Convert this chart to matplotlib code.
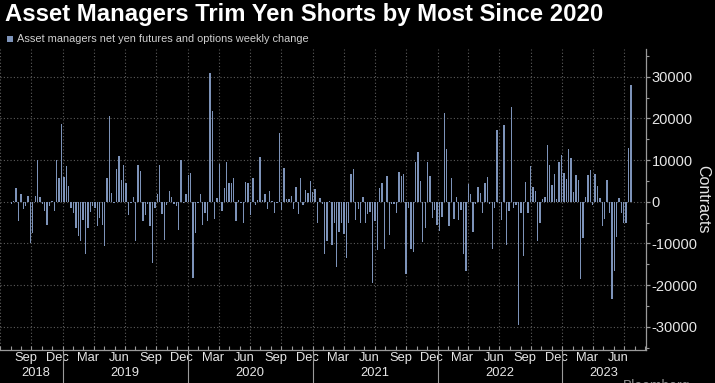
import numpy as np
import pandas as pd
import matplotlib
matplotlib.use("Agg")
import matplotlib.pyplot as plt
import matplotlib.dates as mdates
import matplotlib.transforms as mtransforms
from matplotlib.ticker import MultipleLocator, FuncFormatter

# weekly change in asset managers' net yen futures & options positions (contracts)
changes_2018_19 = [
    -500, 200, 3300, -4700, 1900, -1700, -1100, 1400, -9800, -7400, 1400, 10000, 1200,
    -600, -2300, -5500, -1100, 200, -2300, 10000, 5700, 18700, 6000, 8500, 3800, -1600,
    -2700, -6200, -8300, -9500, -4300, -12500, -6200, -2400, -1100, -1400, -5900, -3800,
    -5500, -10700, 5800, 20600, 2100, -300, 7900, 11000, 5300, 8900, 4600, -3300, -300,
    1100, -9500,
]
changes_2019_20 = [
    8800, 7400, -4600, -3100, -500, -5800, -14600, -1600, 1800, 8800, -3000, -9100, -900,
    2600, 1100, -600, -1100, -6700, 10000, -400, 1900, 6400, 7000, -18400, -7600, -300,
    1900, -5500, -2600, -4700, 30900, 21800, -4200, 800, 9000, -2300, 3200, 9500, 4400,
    4600, 5800, -4700, 500, -300, -5100, 4800, 4600, -3100, 5700, -900,
]
changes_2020_21 = [
    300, 10800, 300, 1800, -1700, 2600, 200, -2600, -300, 16600, -2100, 8200, 700, 700,
    1400, -1800, 3600, -3000, 5800, -900, 2900, 2200, 5000, 2400, 3100, -5200, 1000, -500,
    -12600, -9400, 200, -10400, -5200, -15700, -7200, -5200, -7800, -13400, -5000, 6700,
    7900, -4400, -1800, -5200, 1200, -5000, -3000, -2500, -19400, -4600, -11700, 3200, 4600,
]
changes_2021_22 = [
    -11400, 6100, -7900, -500, -600, -2700, 7200, 6100, 6700, -17300, -1400, -11400,
    -12100, 9600, 11900, 5000, -9700, -6200, 9600, 6200, -4000, -2100, -5500, -7100,
    -3700, 21300, 12700, -5900, 5800, -4100, 1100, -4500, -2100, -12600, -16700, 4200,
    1800, -7300, -600, 3500, 2100, -2800, 4600, 6000, -600, -11400, -1400, 17200, -400,
    -4500, 18500, -10500,
]
changes_2022_23 = [
    -2300, 22800, -1400, -900, -29500, -2600, -13000, 4700, -2700, 8500, 3600, 2500,
    -9400, -5100, 600, 1100, 13700, 8800, 3900, 6700, 700, 9500, 11300, 7000, 5400,
    12600, 10500, 2400, 6400, 5200, -18500, -8800, 1200, 6400, 7600, -800, 6600, 3800,
    900, -5800, -4100, 5200, -2600, -23400, -16600, -8400, 900, -2800, -5000, -5000,
    13000, 27900,
]
changes = (changes_2018_19 + changes_2019_20 + changes_2020_21
           + changes_2021_22 + changes_2022_23)
dates = pd.date_range(end="2023-07-21", periods=len(changes), freq="7D")

title = "Asset Managers Trim Yen Shorts by Most Since 2020"
legend_label = "Asset managers net yen futures and options weekly change"
y_label = "Contracts"

BG = "#000000"
BAR = "#7d93b9"
GRID = "#5c5c5c"
AXC = "#9a9a9a"
TXT = "#e6e6e6"

plt.rcParams["font.family"] = ["Liberation Sans Narrow", "Liberation Sans", "DejaVu Sans"]
plt.rcParams["savefig.bbox"] = "standard"

fig = plt.figure(figsize=(7.15, 3.83), dpi=100, facecolor=BG)
ax = fig.add_axes([0.0, 1 - 350 / 383, 646 / 715, 301 / 383], facecolor=BG)

ax.bar(dates, changes, width=4, color=BAR, linewidth=0, zorder=3)

x0 = mdates.date2num(pd.Timestamp("2018-07-26"))
x1 = mdates.date2num(pd.Timestamp("2023-09-03"))
ax.set_xlim(x0, x1)
ax.set_ylim(-35600, 36650)

for s in ["left", "top"]:
    ax.spines[s].set_visible(False)
for s in ["right", "bottom"]:
    ax.spines[s].set_color(AXC)
    ax.spines[s].set_linewidth(0.9)

# y axis on the right
ax.yaxis.tick_right()
ax.yaxis.set_major_locator(MultipleLocator(10000))
ax.yaxis.set_minor_locator(MultipleLocator(5000))
ax.yaxis.set_major_formatter(FuncFormatter(lambda v, p: f"{int(v)}"))
ax.tick_params(axis="y", which="major", length=3, width=0.9, color=AXC,
               labelcolor=TXT, labelsize=10.5, pad=1)
ax.tick_params(axis="y", which="minor", length=2, width=0.8, color=AXC)
ax.text(703 / 646, 0.5, y_label, transform=ax.transAxes, rotation=-90,
        ha="center", va="center", color=TXT, fontsize=11.5)
ax.grid(axis="y", which="major", color=GRID, linestyle=(0, (1, 2)), linewidth=0.8, zorder=0)

# x axis: month labels mid-month, small ticks at month starts
months = pd.date_range("2018-07-01", "2023-09-01", freq="MS")
label_months = [m + pd.Timedelta(days=14) for m in months
                if m.month in (3, 6, 9, 12) and m <= dates[-1]]
ax.set_xticks([mdates.date2num(d) for d in label_months])
ax.set_xticklabels([d.strftime("%b") for d in label_months])
ax.set_xticks([mdates.date2num(m) for m in months], minor=True)
ax.tick_params(axis="x", which="major", length=0, labelcolor=TXT, labelsize=9.3, pad=1.5)
ax.tick_params(axis="x", which="minor", length=3, width=0.8, color=AXC, direction="in")

# quarterly vertical gridlines
for m in months:
    if m.month in (1, 4, 7, 10):
        ax.axvline(mdates.date2num(m), color=GRID, linestyle=(0, (1, 2)), linewidth=0.8, zorder=0)

# year labels and separators under the axis
trans = mtransforms.blended_transform_factory(ax.transData, ax.transAxes)
for yr in range(2018, 2024):
    start = max(mdates.date2num(pd.Timestamp(f"{yr}-01-01")), x0)
    end = min(mdates.date2num(pd.Timestamp(f"{yr + 1}-01-01")), x1)
    ax.text((start + end) / 2, -16.8 / 301, str(yr), transform=trans, ha="center", va="top",
            color=TXT, fontsize=9.3)
    if yr > 2018:
        ax.plot([start, start], [0, -0.13], transform=trans, color=AXC,
                linewidth=0.8, clip_on=False)

# title and legend
fig.text(0.007, 1 - 3 / 383, title, ha="left", va="top", color="white",
         fontsize=17.2, fontweight="bold")
fig.patches.append(plt.Rectangle((7 / 715, 1 - 42 / 383), 6 / 715, 6 / 383,
                                 transform=fig.transFigure, facecolor=BAR, edgecolor="none"))
fig.text(17 / 715, 1 - 39 / 383, legend_label, ha="left", va="center", color="#d0d0d0",
         fontsize=7.9)
fig.text(623 / 715, 1 - 379 / 383, "Bloomberg", ha="left", va="top", color="#8a8a8a",
         fontsize=10)

fig.savefig("out.png", dpi=100, facecolor=BG)
